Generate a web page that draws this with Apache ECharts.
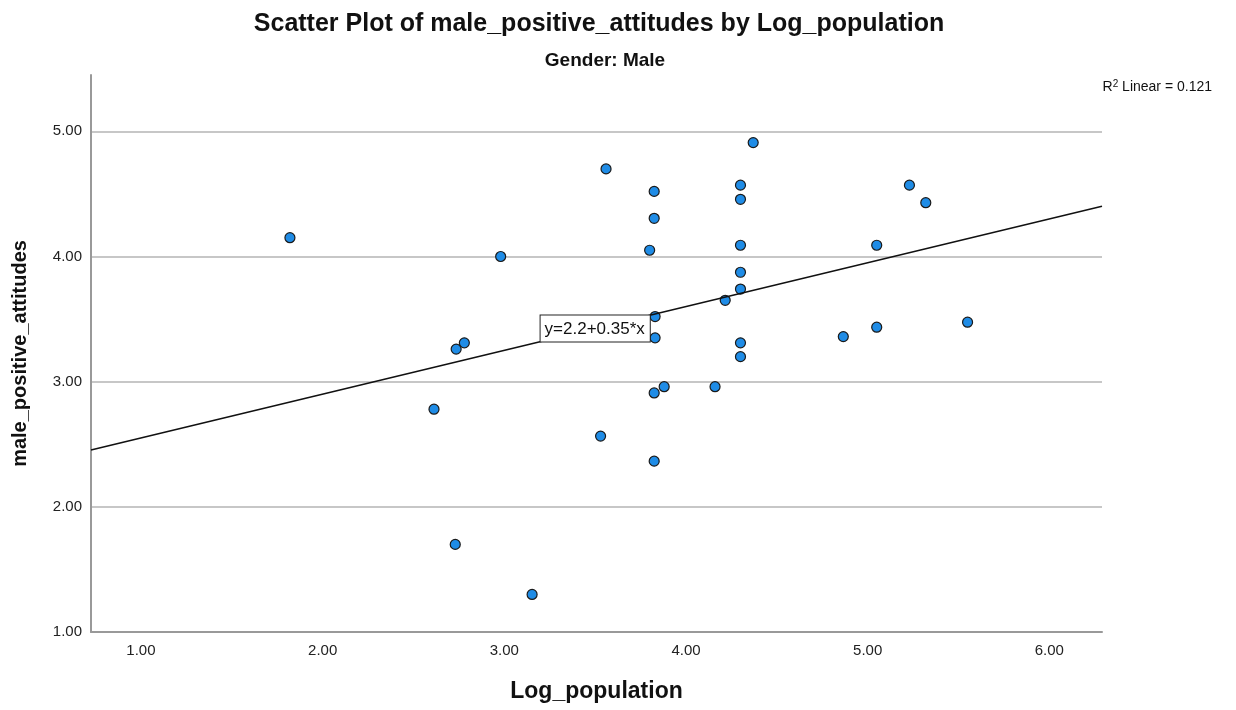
<!DOCTYPE html>
<html>
<head>
<meta charset="utf-8">
<script src="https://cdn.jsdelivr.net/npm/echarts@6/dist/echarts.min.js"></script>
<style>
  html, body { margin: 0; padding: 0; background: #fff; }
  #chart { width: 1236px; height: 710px; }
</style>
</head>
<body>
<div id="chart"></div>
<script>
// Log_population values (x)
var logPopulation = [
  1.82, 2.98, 2.735, 2.78, 2.613, 2.73, 3.153, 3.56, 3.825, 3.825, 3.80,
  4.30, 4.30, 4.37, 4.30, 4.30, 4.30, 4.216, 3.83, 3.83, 4.30, 4.30,
  3.825, 3.88, 4.16, 3.53, 3.825, 5.23, 5.32, 5.05, 4.866, 5.05, 5.55
];
// male_positive_attitudes values (y)
var malePositive = [
  4.15, 4.00, 3.26, 3.31, 2.78, 1.70, 1.30, 4.70, 4.52, 4.305, 4.05,
  4.57, 4.457, 4.91, 4.09, 3.874, 3.74, 3.65, 3.52, 3.35, 3.31, 3.20,
  2.91, 2.96, 2.96, 2.565, 2.365, 4.57, 4.43, 4.09, 3.36, 3.435, 3.475
];
var xTicks = [1, 2, 3, 4, 5, 6];
var yTicks = [1, 2, 3, 4, 5];

// linear fit
var intercept = 2.2;
var slope = 0.35;
var rSquared = 0.121;
var xMin = 0.725, xMax = 6.29;
var yMin = 1, yMax = 5.45;
var labelX = 3.2;

var points = logPopulation.map(function (x, i) { return [x, malePositive[i]]; });
var fit = function (x) { return intercept + slope * x; };

var chart = echarts.init(document.getElementById('chart'));
var fam = '"Liberation Sans", Arial, sans-serif';

chart.setOption({
  backgroundColor: '#fff',
  textStyle: { fontFamily: fam },
  title: [
    {
      text: 'Scatter Plot of male_positive_attitudes by Log_population',
      left: 594, top: 7, textAlign: 'center',
      textStyle: { fontSize: 25, fontWeight: 'bold', color: '#111', fontFamily: fam }
    },
    {
      text: 'Gender: Male',
      left: 600, top: 46, textAlign: 'center',
      textStyle: { fontSize: 19, fontWeight: 'bold', color: '#111', fontFamily: fam }
    }
  ],
  graphic: [
    {
      type: 'text', right: 24, top: 79,
      style: {
        text: '{a|R}{s|2}{a| Linear = ' + rSquared + '}',
        rich: {
          a: { fontSize: 14, fill: '#111', fontFamily: fam },
          s: { fontSize: 10, fill: '#111', fontFamily: fam, padding: [0, 0, 7, 0] }
        }
      }
    }
  ],
  grid: { left: 91, right: 134, top: 75, bottom: 78, outerBoundsMode: 'none', containLabel: false },
  xAxis: {
    type: 'value',
    min: xMin, max: xMax,
    name: 'Log_population',
    nameLocation: 'middle', nameGap: 48,
    nameTextStyle: { fontSize: 23, fontWeight: 'bold', color: '#111', fontFamily: fam },
    axisLine: { show: true, lineStyle: { color: '#999', width: 2 } },
    axisTick: { show: false },
    axisLabel: {
      customValues: xTicks,
      formatter: function (v) { return v.toFixed(2); },
      fontSize: 15, color: '#222', margin: 11
    },
    splitLine: { show: false }
  },
  yAxis: {
    type: 'value',
    min: yMin, max: yMax,
    name: 'male_positive_attitudes',
    nameLocation: 'middle', nameGap: 61,
    nameTextStyle: { fontSize: 20, fontWeight: 'bold', color: '#111', fontFamily: fam },
    axisLine: { show: true, lineStyle: { color: '#999', width: 2 } },
    axisTick: { show: false },
    axisLabel: {
      customValues: yTicks,
      formatter: function (v) { return v.toFixed(2); },
      fontSize: 15, color: '#222', margin: 9
    },
    splitLine: {
      show: true,
      showMaxLine: false,
      lineStyle: { color: '#b4b4b4', width: 1.5 }
    }
  },
  series: [
    {
      type: 'scatter',
      data: points,
      symbolSize: 10,
      itemStyle: { color: '#1f8ce6', borderColor: '#1a1a1a', borderWidth: 1.2, opacity: 1 },
      z: 2
    },
    {
      type: 'line',
      data: [[xMin, fit(xMin)], [xMax, fit(xMax)]],
      showSymbol: false, symbol: 'none',
      lineStyle: { color: '#111', width: 1.5 },
      silent: true,
      z: 3
    },
    {
      type: 'scatter',
      data: [[labelX, fit(labelX)]],
      symbolSize: 0.1,
      itemStyle: { color: '#fff', opacity: 1 },
      label: {
        show: true,
        position: [0, 0],
        align: 'left', verticalAlign: 'bottom',
        formatter: 'y=' + intercept + '+' + slope + '*x',
        fontSize: 17, color: '#111', fontFamily: fam, opacity: 1,
        backgroundColor: '#ffffff', borderColor: '#222', borderWidth: 1,
        padding: [5, 5, 4, 4]
      },
      emphasis: { disabled: true },
      silent: true,
      z: 10
    }
  ]
});
</script>
</body>
</html>
